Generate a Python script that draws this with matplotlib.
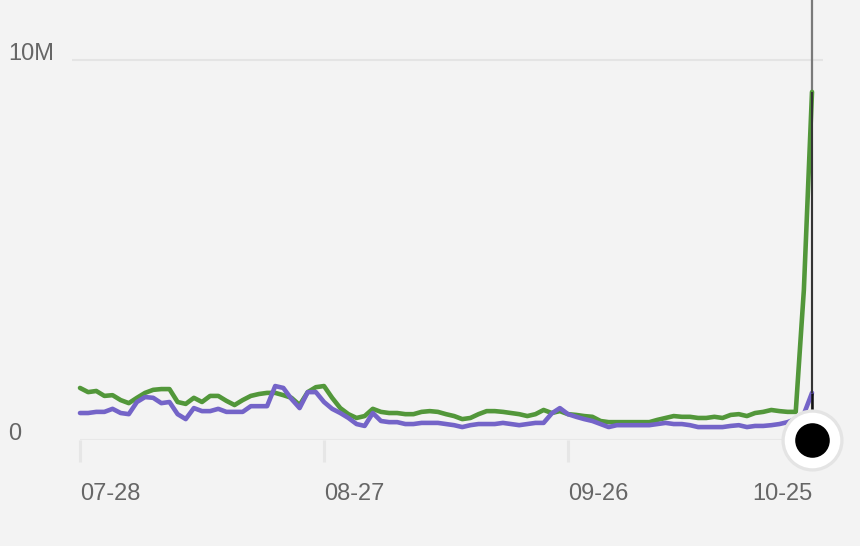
import matplotlib.pyplot as plt
from matplotlib.transforms import offset_copy

# valores diários (em milhões)
dias = list(range(91))
verde = [1.37, 1.26, 1.29, 1.16, 1.18, 1.05, 0.97, 1.11, 1.24, 1.32,
         1.34, 1.34, 1.00, 0.95, 1.11, 1.00, 1.16, 1.16, 1.03, 0.92,
         1.05, 1.16, 1.21, 1.24, 1.24, 1.18, 1.11, 0.92, 1.26, 1.39,
         1.42, 1.11, 0.84, 0.68, 0.58, 0.63, 0.82, 0.74, 0.71, 0.71,
         0.68, 0.68, 0.74, 0.76, 0.74, 0.68, 0.63, 0.55, 0.58, 0.68,
         0.76, 0.76, 0.74, 0.71, 0.68, 0.63, 0.68, 0.79, 0.71, 0.76,
         0.68, 0.66, 0.63, 0.61, 0.50, 0.47, 0.47, 0.47, 0.47, 0.47,
         0.47, 0.53, 0.58, 0.63, 0.61, 0.61, 0.58, 0.58, 0.61, 0.58,
         0.66, 0.68, 0.63, 0.71, 0.74, 0.79, 0.76, 0.74, 0.74, 3.95,
         9.16]
roxo = [0.71, 0.71, 0.74, 0.74, 0.82, 0.71, 0.68, 1.00, 1.13, 1.11,
        0.97, 1.00, 0.68, 0.55, 0.84, 0.76, 0.76, 0.82, 0.74, 0.74,
        0.74, 0.89, 0.89, 0.89, 1.42, 1.37, 1.08, 0.84, 1.26, 1.26,
        1.00, 0.82, 0.71, 0.58, 0.42, 0.37, 0.71, 0.50, 0.47, 0.47,
        0.42, 0.42, 0.45, 0.45, 0.45, 0.42, 0.39, 0.34, 0.39, 0.42,
        0.42, 0.42, 0.45, 0.42, 0.39, 0.42, 0.45, 0.45, 0.70, 0.84,
        0.68, 0.61, 0.55, 0.50, 0.42, 0.34, 0.39, 0.39, 0.39, 0.39,
        0.39, 0.42, 0.45, 0.42, 0.42, 0.39, 0.34, 0.34, 0.34, 0.34,
        0.37, 0.39, 0.34, 0.37, 0.37, 0.39, 0.42, 0.47, 0.55, 0.68,
        1.24]
ticks_x = [0, 30, 60, 90]
ticks_rotulos = ['07-28', '08-27', '09-26', '10-25']
ticks_y = [0, 10]
rotulos_y = ['0', '10M']

fundo = '#f3f3f3'
cinza_texto = '#666666'

fig = plt.figure(figsize=(8.6, 5.46), dpi=100, facecolor=fundo)
ax = fig.add_axes([72 / 860, 106 / 546, 751 / 860, 440 / 546])
ax.set_facecolor(fundo)

# escala: dia 0 em x=80px, dia 90 em x=812px
ppd = 732 / 90
ax.set_xlim(-8 / ppd, 90 + 11 / ppd)
ax.set_ylim(0, 440 / 38)

# grade
ax.axhline(10, color='#e4e4e4', lw=1.5, zorder=1)
ax.hlines(0, dias[0], dias[-1], color='#e8e8e8', lw=1.5, zorder=1)

# linhas
ax.plot(dias, verde, color='#52973a', lw=3.3, solid_joinstyle='round',
        solid_capstyle='round', zorder=3)
ax.plot(dias, roxo, color='#7464c8', lw=3.3, solid_joinstyle='round',
        solid_capstyle='round', zorder=4)

# cursor (hover) no último ponto
ultimo = dias[-1]
ax.axvline(ultimo, color='#7a7a7a', lw=1.6, zorder=2)
ax.vlines(ultimo, 0, roxo[-1], color='#111111', lw=1.8, zorder=5)
ax.vlines(ultimo, roxo[-1], verde[-1], color='#333333', lw=1.4, zorder=5)
ax.scatter([ultimo], [0], s=2000, color='#e4e4e4', zorder=6, clip_on=False, linewidths=0)
ax.scatter([ultimo], [0], s=1600, color='white', zorder=7, clip_on=False, linewidths=0)
ax.scatter([ultimo], [0], s=620, color='black', zorder=8, clip_on=False, linewidths=0)

# eixos
for lado in ax.spines.values():
    lado.set_visible(False)
ax.set_yticks([])
ax.set_xticks(ticks_x)
ax.set_xticklabels(ticks_rotulos, fontsize=17, color=cinza_texto, family='Liberation Sans')
ax.tick_params(axis='x', length=16, width=2.2, color='#e6e6e6', pad=15)
for i, rot in enumerate(ax.get_xticklabels()):
    rot.set_ha('right' if i == len(ticks_x) - 1 else 'left')

# rótulos do eixo y, acima das linhas
trans = offset_copy(ax.get_yaxis_transform(), fig=fig, x=0, y=6, units='dots')
for v, t in zip(ticks_y, rotulos_y):
    ax.text(-64 / 751, v, t, transform=trans, ha='left', va='center',
            fontsize=17, color=cinza_texto, family='Liberation Sans')

fig.savefig('out.png', dpi=100, facecolor=fundo)
